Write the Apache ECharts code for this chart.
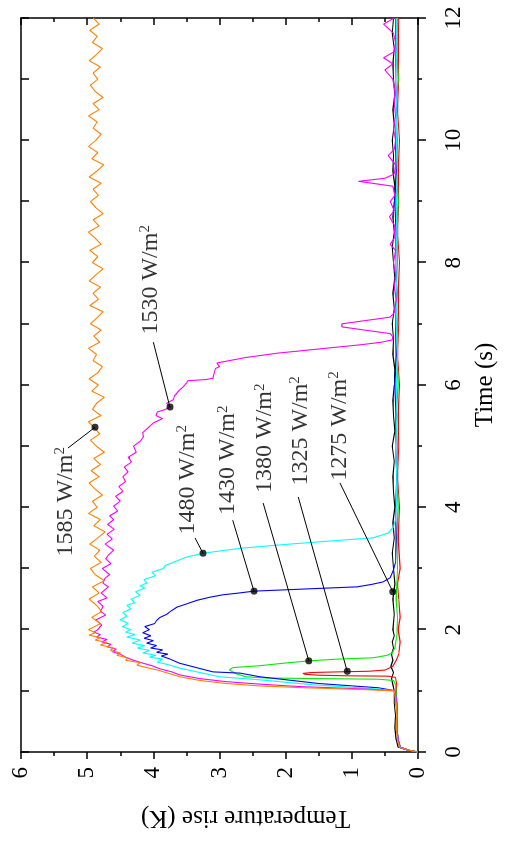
<!DOCTYPE html>
<html><head><meta charset="utf-8">
<script src="https://cdn.jsdelivr.net/npm/echarts/dist/echarts.min.js"></script>
<style>
html,body{margin:0;padding:0;width:510px;height:855px;overflow:hidden;background:#fff;}
#chart{position:absolute;left:0;top:0;width:855px;height:510px;transform-origin:0 0;transform:translate(0,855px) rotate(-90deg);}
</style></head><body><div id="chart"></div>
<script>
// ---- data (time s, temperature rise K) ----
const s1275 = [[0,0],[0.03,0.16],[0.08,0.3],[0.2,0.33],[0.4,0.35],[0.6,0.34],[0.8,0.36],[1.0,0.36],[1.1,0.38],[1.2,0.4],[1.3,0.37],[1.4,0.41],[1.5,0.38],[1.6,0.4],[1.7,0.37],[1.8,0.39],[1.9,0.36],[2.0,0.38],[2.25,0.36],[2.5,0.38],[2.75,0.35],[3.0,0.37],[3.25,0.39],[3.5,0.36],[3.75,0.38],[4.0,0.35],[4.25,0.37],[4.5,0.38],[4.75,0.36],[5.0,0.39],[5.25,0.35],[5.5,0.37],[5.75,0.38],[6.0,0.36],[6.25,0.35],[6.5,0.38],[6.75,0.37],[7.0,0.39],[7.25,0.36],[7.5,0.38],[7.75,0.35],[8.0,0.37],[8.25,0.39],[8.5,0.36],[8.75,0.38],[9.0,0.36],[9.25,0.35],[9.5,0.38],[9.75,0.37],[10.0,0.39],[10.25,0.36],[10.5,0.38],[10.75,0.35],[11.0,0.37],[11.25,0.38],[11.5,0.36],[11.75,0.39],[12.0,0.37]];
const s1325 = [[0,0],[0.03,0.14],[0.08,0.27],[0.2,0.3],[0.4,0.32],[0.6,0.31],[0.8,0.32],[1.0,0.33],[1.1,0.32],[1.22,0.34],[1.24,0.45],[1.245,1.0],[1.255,1.5],[1.27,1.7],[1.285,1.74],[1.3,1.6],[1.31,1.2],[1.32,0.75],[1.34,0.5],[1.4,0.38],[1.5,0.33],[1.6,0.29],[1.8,0.27],[2.0,0.3],[2.2,0.27],[2.5,0.29],[2.75,0.31],[3.0,0.27],[3.5,0.3],[4.0,0.28],[4.5,0.31],[5.0,0.29],[5.5,0.3],[6.0,0.28],[6.5,0.31],[7.0,0.29],[7.5,0.3],[8.0,0.28],[8.5,0.31],[9.0,0.29],[9.5,0.3],[10.0,0.28],[10.5,0.31],[11.0,0.29],[11.5,0.3],[12.0,0.29]];
const s1380 = [[0,0],[0.03,0.14],[0.08,0.27],[0.2,0.3],[0.4,0.32],[0.6,0.31],[0.8,0.33],[1.0,0.33],[1.1,0.34],[1.17,0.37],[1.19,0.6],[1.2,1.5],[1.21,2.3],[1.23,2.6],[1.28,2.75],[1.34,2.85],[1.38,2.8],[1.41,2.4],[1.45,2.05],[1.49,1.65],[1.52,1.2],[1.54,0.68],[1.58,0.47],[1.62,0.39],[1.7,0.35],[1.9,0.32],[2.2,0.31],[2.5,0.33],[3.0,0.31],[3.5,0.32],[4.0,0.3],[4.5,0.32],[5.0,0.31],[5.5,0.33],[6.0,0.3],[6.5,0.32],[7.0,0.31],[7.5,0.33],[8.0,0.31],[8.5,0.32],[9.0,0.3],[9.5,0.32],[10.0,0.31],[10.5,0.33],[11.0,0.3],[11.5,0.32],[12.0,0.31]];
const s1430 = [[0,0],[0.03,0.14],[0.08,0.27],[0.2,0.3],[0.4,0.32],[0.6,0.31],[0.8,0.33],[1.0,0.34],[1.05,0.6],[1.12,1.5],[1.23,2.39],[1.29,2.69],[1.31,3.1],[1.38,3.35],[1.45,3.6],[1.52,3.75],[1.57,3.88],[1.6,3.78],[1.63,3.95],[1.67,3.86],[1.7,4.04],[1.74,3.95],[1.78,4.1],[1.82,4.0],[1.86,4.14],[1.9,4.04],[1.95,4.16],[2.0,4.06],[2.05,4.13],[2.1,3.98],[2.15,3.95],[2.2,3.9],[2.25,3.8],[2.3,3.74],[2.37,3.64],[2.42,3.5],[2.48,3.34],[2.53,3.15],[2.57,2.95],[2.6,2.7],[2.63,2.48],[2.67,1.6],[2.7,0.92],[2.74,0.7],[2.78,0.53],[2.85,0.42],[2.98,0.37],[3.1,0.34],[3.5,0.33],[4.0,0.34],[4.5,0.32],[5.0,0.34],[5.5,0.33],[6.0,0.35],[6.5,0.33],[7.0,0.34],[7.5,0.32],[8.0,0.34],[8.5,0.33],[9.0,0.35],[9.5,0.33],[10.0,0.34],[10.5,0.32],[11.0,0.34],[11.5,0.33],[12.0,0.34]];
const s1480 = [[0,0],[0.03,0.14],[0.08,0.27],[0.2,0.3],[0.4,0.32],[0.6,0.31],[0.8,0.33],[1.0,0.34],[1.03,0.6],[1.1,1.6],[1.18,2.39],[1.23,3.0],[1.3,3.3],[1.37,3.6],[1.42,3.75],[1.47,3.94],[1.52,3.86],[1.55,4.06],[1.58,3.96],[1.62,4.16],[1.66,4.06],[1.7,4.24],[1.74,4.13],[1.78,4.32],[1.83,4.2],[1.88,4.4],[1.92,4.28],[1.96,4.42],[2.0,4.34],[2.05,4.47],[2.1,4.38],[2.16,4.5],[2.22,4.4],[2.28,4.46],[2.34,4.34],[2.4,4.4],[2.44,4.28],[2.5,4.34],[2.56,4.2],[2.62,4.27],[2.68,4.13],[2.72,4.2],[2.76,4.1],[2.82,4.14],[2.88,3.97],[2.94,4.02],[3.0,3.85],[3.05,3.82],[3.1,3.7],[3.18,3.52],[3.25,3.25],[3.33,2.69],[3.4,1.93],[3.46,1.2],[3.5,0.68],[3.58,0.45],[3.68,0.37],[3.8,0.34],[4.0,0.33],[4.5,0.32],[5.0,0.34],[5.5,0.32],[6.0,0.33],[6.5,0.31],[7.0,0.33],[7.5,0.32],[8.0,0.34],[8.5,0.32],[9.0,0.33],[9.5,0.31],[10.0,0.33],[10.5,0.32],[11.0,0.34],[11.5,0.32],[12.0,0.33]];
const s1530 = [[0,0],[0.03,0.14],[0.08,0.27],[0.2,0.3],[0.4,0.32],[0.6,0.31],[0.8,0.32],[1.0,0.35],[1.03,0.8],[1.07,1.8],[1.11,2.39],[1.15,2.9],[1.2,3.3],[1.26,3.6],[1.31,3.72],[1.36,3.9],[1.41,4.02],[1.45,4.15],[1.5,4.3],[1.55,4.42],[1.6,4.5],[1.64,4.62],[1.68,4.56],[1.72,4.7],[1.76,4.64],[1.8,4.78],[1.84,4.7],[1.88,4.86],[1.92,4.8],[1.96,4.9],[2.0,4.84],[2.08,4.78],[2.16,4.87],[2.24,4.72],[2.3,4.8],[2.38,4.76],[2.46,4.84],[2.52,4.7],[2.6,4.79],[2.7,4.68],[2.76,4.76],[2.84,4.73],[2.9,4.66],[3.0,4.77],[3.08,4.64],[3.16,4.72],[3.22,4.68],[3.3,4.6],[3.4,4.73],[3.48,4.62],[3.56,4.7],[3.64,4.59],[3.72,4.69],[3.8,4.6],[3.86,4.66],[3.94,4.54],[4.02,4.6],[4.1,4.5],[4.18,4.57],[4.26,4.46],[4.34,4.52],[4.42,4.42],[4.5,4.46],[4.58,4.38],[4.66,4.44],[4.74,4.33],[4.82,4.38],[4.9,4.26],[5.0,4.3],[5.08,4.2],[5.15,4.15],[5.22,4.16],[5.3,4.08],[5.38,4.0],[5.45,3.86],[5.5,3.96],[5.56,3.94],[5.6,3.82],[5.64,3.75],[5.7,3.8],[5.76,3.7],[5.82,3.68],[5.9,3.62],[5.97,3.55],[6.03,3.5],[6.07,3.48],[6.09,3.2],[6.11,3.1],[6.2,3.08],[6.27,3.06],[6.3,3.0],[6.36,3.04],[6.45,2.6],[6.52,2.13],[6.6,1.4],[6.66,0.85],[6.7,0.55],[6.74,0.38],[6.8,0.39],[6.84,0.42],[6.95,1.15],[7.0,1.15],[7.11,0.42],[7.18,0.36],[7.4,0.33],[7.6,0.36],[7.8,0.34],[8.0,0.37],[8.2,0.34],[8.3,0.42],[8.4,0.36],[8.6,0.35],[8.75,0.43],[8.85,0.36],[9.0,0.42],[9.1,0.35],[9.25,0.38],[9.33,0.9],[9.38,0.5],[9.45,0.36],[9.6,0.34],[9.75,0.45],[9.85,0.36],[10.0,0.34],[10.2,0.37],[10.4,0.34],[10.6,0.36],[10.8,0.35],[11.0,0.38],[11.15,0.5],[11.25,0.38],[11.35,0.52],[11.45,0.36],[11.6,0.34],[11.75,0.37],[11.9,0.52],[12.0,0.36]];
const s1585Rise = [[0,0],[0.03,0.15],[0.08,0.28],[0.2,0.31],[0.4,0.33],[0.6,0.32],[0.8,0.33],[1.0,0.36],[1.02,0.8],[1.05,1.7],[1.08,2.39],[1.12,2.9],[1.17,3.3],[1.23,3.6],[1.28,3.75],[1.34,3.94],[1.38,4.1],[1.42,4.25],[1.46,4.2],[1.5,4.42],[1.54,4.38],[1.58,4.55],[1.62,4.5],[1.66,4.65],[1.7,4.6],[1.75,4.8],[1.79,4.7],[1.83,4.88],[1.87,4.8],[1.91,4.97],[1.95,4.88],[2.0,4.98]];
// plateau of the 1585 W/m2 curve, sampled every 0.1 s from 2.1 s to 12.0 s
const s1585PlateauStart = 2.1;
const s1585PlateauStep = 0.1;
const s1585Plateau = [4.8,4.93,4.78,4.86,4.97,4.82,4.92,4.74,4.88,4.95,4.79,4.89,4.81,4.96,4.84,4.73,4.9,4.8,4.98,4.85,4.92,4.77,4.88,4.97,4.82,4.94,4.8,4.9,4.74,4.86,4.95,4.81,4.89,4.98,4.79,4.92,4.86,4.74,4.93,4.83,4.97,4.84,4.77,4.91,4.86,4.98,4.81,4.9,4.79,4.95,4.85,4.76,4.96,4.83,4.91,4.8,4.97,4.87,4.76,4.92,4.84,4.96,4.79,4.88,4.98,4.82,4.91,4.76,4.87,4.95,4.83,4.91,4.79,4.97,4.85,4.75,4.93,4.84,4.98,4.87,4.79,4.91,4.85,4.98,4.82,4.91,4.76,4.88,4.95,4.84,4.91,4.8,4.97,4.86,4.77,4.92,4.85,4.96,4.82,4.91];

const seriesNames = ['1275','1325','1380','1430','1480','1530','1585'];
const seriesColors = ['#000000','#ff0000','#00ee00','#0000ff','#00ffff','#ff00ff','#ff8000'];

// annotations: label text, label centre, leader start, leader end (dot)
const annLabels = ['1585','1530','1480','1430','1380','1325','1275'];
const annTextPos = [[4.09,5.33],[7.72,4.04],[4.45,3.48],[4.77,2.87],[5.13,2.31],[5.25,1.78],[5.33,1.19]];
const annLineStart = [[4.97,5.29],[6.70,4.0],[3.50,3.37],[3.79,2.80],[4.07,2.34],[4.17,1.81],[4.40,1.18]];
const annDot = [[5.31,4.88],[5.64,3.75],[3.25,3.25],[2.63,2.48],[1.49,1.65],[1.32,1.07],[2.62,0.38]];

// ---- build ----
const s1585 = s1585Rise.concat(s1585Plateau.map((v,i)=>[+(s1585PlateauStart + i*s1585PlateauStep).toFixed(2), v]));
const allData = [s1275,s1325,s1380,s1430,s1480,s1530,s1585];
const FONT = '"Liberation Serif","Times New Roman",Times,serif';
const AX = {color:'#000', width:1.5};

const lineSeries = allData.map((d,i)=>({
  name: seriesNames[i], type:'line', data:d, showSymbol:false, symbol:'none',
  lineStyle:{color:seriesColors[i], width:1.1}, itemStyle:{color:seriesColors[i]},
  animation:false, silent:true, z:2
}));

const chart = echarts.init(document.getElementById('chart'), null, {renderer:'canvas'});
chart.setOption({
  animation:false,
  backgroundColor:'#fff',
  grid:{left:103,right:18,top:21,bottom:92},
  xAxis:[
    {type:'value',min:0,max:12,interval:2,position:'bottom',
     name:'Time (s)',nameLocation:'middle',nameGap:55,
     nameTextStyle:{fontFamily:FONT,fontSize:25,color:'#000'},
     axisLine:{show:true,onZero:false,lineStyle:AX},
     axisTick:{show:true,inside:false,length:8,lineStyle:AX},
     minorTick:{show:true,splitNumber:2,length:4,lineStyle:AX},
     axisLabel:{margin:24,fontFamily:FONT,fontSize:23,color:'#000'},
     splitLine:{show:false},minorSplitLine:{show:false}},
    {type:'value',min:0,max:12,interval:1,position:'top',
     axisLine:{show:true,onZero:false,lineStyle:AX},
     axisTick:{show:true,inside:true,length:8,lineStyle:AX},
     axisLabel:{show:false},splitLine:{show:false}}
  ],
  yAxis:[
    {type:'value',min:0,max:6,interval:1,position:'left',
     name:'Temperature rise (K)',nameLocation:'middle',nameGap:53,
     nameTextStyle:{fontFamily:FONT,fontSize:25,color:'#000',padding:[0,52,0,0]},
     axisLine:{show:true,onZero:false,lineStyle:AX},
     axisTick:{show:true,inside:false,length:7,lineStyle:AX},
     minorTick:{show:true,splitNumber:2,length:4,lineStyle:AX},
     axisLabel:{margin:15,fontFamily:FONT,fontSize:23,color:'#000'},
     splitLine:{show:false}},
    {type:'value',min:0,max:6,interval:1,position:'right',
     axisLine:{show:true,onZero:false,lineStyle:AX},
     axisTick:{show:true,inside:true,length:7,lineStyle:AX},
     minorTick:{show:true,splitNumber:2,length:4,lineStyle:AX},
     axisLabel:{show:false},splitLine:{show:false}}
  ],
  series: lineSeries.concat([
    {type:'lines',coordinateSystem:'cartesian2d',polyline:false,silent:true,z:5,
     data: annLineStart.map((p,i)=>({coords:[p, annDot[i]]})),
     lineStyle:{color:'#000',width:1,opacity:1}, effect:{show:false}},
    {type:'scatter',data:annDot,symbol:'circle',symbolSize:7,silent:true,z:6,
     itemStyle:{color:'#000'}},
    {type:'scatter',data:annTextPos.map((p,i)=>({value:p, name:annLabels[i]})),
     symbolSize:1,silent:true,z:6,itemStyle:{color:'rgba(0,0,0,0)'},
     label:{show:true,position:'inside',color:'#000',
       formatter:(p)=>'{n|'+p.name+' W/m}{s|2}',
       rich:{n:{fontFamily:FONT,fontSize:24,color:'#000',lineHeight:26},
             s:{fontFamily:FONT,fontSize:15,color:'#000',verticalAlign:'top',lineHeight:16}}}}
  ])
});
</script></body></html>
